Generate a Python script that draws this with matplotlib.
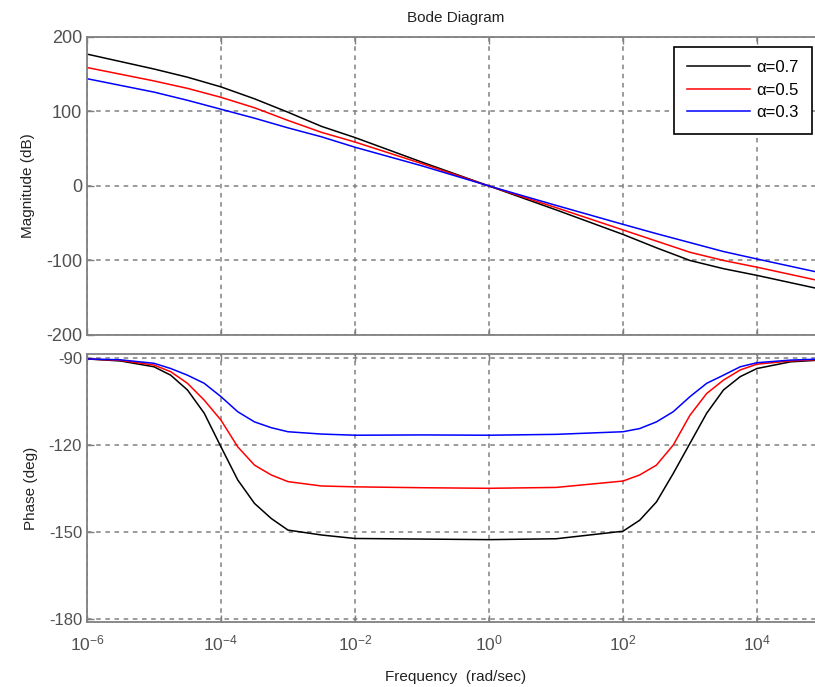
#!/usr/bin/env python3

import numpy as np
import matplotlib.pyplot as plt
from matplotlib.ticker import FixedLocator, NullLocator

plt.rcParams['font.family'] = ['Liberation Sans', 'DejaVu Sans']
plt.rcParams['mathtext.fontset'] = 'custom'
plt.rcParams['mathtext.rm'] = 'Liberation Sans'
plt.rcParams['mathtext.it'] = 'Liberation Sans'
plt.rcParams['axes.unicode_minus'] = False

# log10 of frequency (rad/sec) for the magnitude samples
mag_exp = [-6, -5, -4.5, -4, -3.5, -3, -2.5, -2, -1, 0, 1, 2, 2.5, 3, 3.5, 4, 4.87]
mag_a07 = [177, 157, 146, 133, 117, 99, 80, 65, 32, 0, -32, -65, -83, -100, -111, -120, -137]
mag_a05 = [159, 141, 131, 119, 105, 88, 72, 59, 30, 0, -29, -59, -74, -89, -100, -109, -126]
mag_a03 = [144, 126, 115, 103, 91, 78, 66, 52, 27, 0, -26, -51.5, -64, -76, -88, -98, -115]

# log10 of frequency for the phase samples
ph_exp = [-6, -5.5, -5, -4.75, -4.5, -4.25, -4, -3.75, -3.5, -3.25, -3, -2.5, -2,
          -1, 0, 1, 2, 2.25, 2.5, 2.75, 3, 3.25, 3.5, 3.75, 4, 4.5, 4.87]
ph_a07 = [-90.3, -91.0, -93.0, -95.9, -101.0, -109.0, -120.6, -132.0, -140.1, -145.3,
          -149.3, -151.0, -152.2, -152.4, -152.6, -152.3, -149.7, -145.9, -139.6,
          -129.8, -119.4, -109.0, -101.0, -96.4, -93.6, -91.3, -90.8]
ph_a05 = [-90.3, -90.8, -92.4, -94.7, -98.7, -104.5, -111.4, -120.6, -126.9, -130.3,
          -132.6, -134.1, -134.4, -134.7, -134.9, -134.6, -132.4, -130.3, -126.9,
          -120.0, -109.7, -102.2, -97.6, -94.1, -92.1, -91.0, -90.6]
ph_a03 = [-90.3, -90.6, -91.8, -93.6, -95.9, -98.7, -103.3, -108.5, -112.0, -114.0,
          -115.4, -116.2, -116.6, -116.5, -116.6, -116.3, -115.4, -114.3, -112.0,
          -108.5, -103.3, -98.7, -95.9, -93.0, -91.6, -90.7, -90.4]

labels = ['α=0.7', 'α=0.5', 'α=0.3']
colors = ['black', 'red', 'blue']

xticks = [1e-6, 1e-4, 1e-2, 1e0, 1e2, 1e4]
xtick_labels = ['$10^{-6}$', '$10^{-4}$', '$10^{-2}$', '$10^{0}$', '$10^{2}$', '$10^{4}$']
mag_ticks = [-200, -100, 0, 100, 200]
ph_ticks = [-180, -150, -120, -90]

axis_gray = '#808080'
tick_gray = '#505050'


def style_axes(ax):
    for s in ax.spines.values():
        s.set_color(axis_gray)
        s.set_linewidth(1.3)
    ax.set_xscale('log')
    ax.set_xlim(1e-6, 1e5)
    ax.xaxis.set_major_locator(FixedLocator(xticks))
    ax.xaxis.set_minor_locator(NullLocator())
    ax.tick_params(direction='in', length=5, width=1, colors=axis_gray,
                   labelcolor=tick_gray, labelsize=12, top=True, right=True)
    ax.grid(True, color=axis_gray, linestyle=(0, (3, 3)), linewidth=1.1)


fig = plt.figure(figsize=(8.15, 6.87), dpi=100)
ax1 = fig.add_axes([0.1067, 0.5124, 0.9043, 0.4338])
ax2 = fig.add_axes([0.1067, 0.0946, 0.9043, 0.3901])

w_mag = 10.0 ** np.array(mag_exp)
w_ph = 10.0 ** np.array(ph_exp)

for mag, lab, c in zip([mag_a07, mag_a05, mag_a03], labels, colors):
    ax1.plot(w_mag, mag, color=c, lw=1.1, label=lab)
for ph, c in zip([ph_a07, ph_a05, ph_a03], colors):
    ax2.plot(w_ph, ph, color=c, lw=1.1)

style_axes(ax1)
ax1.set_ylim(-200, 200)
ax1.set_yticks(mag_ticks)
ax1.tick_params(labelbottom=False, labelsize=13)
ax1.set_ylabel('Magnitude (dB)', fontsize=11, color='#222222', labelpad=8)
ax1.set_title('Bode Diagram', fontsize=11, color='#222222', pad=11)

style_axes(ax2)
ax2.set_ylim(-181, -88.6)
ax2.set_yticks(ph_ticks)
ax2.set_xticklabels(xtick_labels)
ax2.tick_params(axis='x', labelsize=12.5, pad=8)
ax2.set_ylabel('Phase (deg)', fontsize=11, color='#222222', labelpad=8)
ax2.set_xlabel('Frequency  (rad/sec)', fontsize=11, color='#222222', labelpad=12)

leg = ax1.legend(loc='upper right', bbox_to_anchor=(812 / 815, 1 - 47 / 687),
                 bbox_transform=fig.transFigure, fontsize=12, handlelength=3.8,
                 handletextpad=0.35, fancybox=False, framealpha=1,
                 borderaxespad=0, labelspacing=0.45, borderpad=0.8)
leg.get_frame().set_edgecolor('black')
leg.get_frame().set_linewidth(1.2)

fig.savefig('out.png', dpi=100)
